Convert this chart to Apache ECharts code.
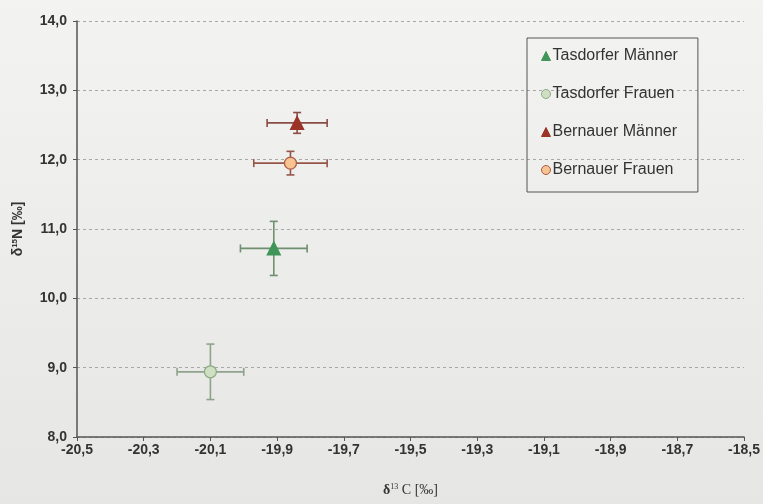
<!DOCTYPE html>
<html>
<head>
<meta charset="utf-8">
<script src="https://cdn.jsdelivr.net/npm/echarts@6/dist/echarts.min.js"></script>
<style>html,body{margin:0;padding:0;}#c{width:763px;height:504px;}</style>
</head>
<body>
<div id="c"></div>
<script>
// ---- data ----
const seriesNames = ['Tasdorfer Männer', 'Tasdorfer Frauen', 'Bernauer Männer', 'Bernauer Frauen'];
const d13C = [-19.91, -20.10, -19.84, -19.86];
const d15N = [10.72, 8.94, 12.53, 11.95];
const d13CErr = [0.10, 0.10, 0.09, 0.11];
const d15NErr = [0.39, 0.40, 0.15, 0.17];
const xTickValues = [-20.5, -20.3, -20.1, -19.9, -19.7, -19.5, -19.3, -19.1, -18.9, -18.7, -18.5];
const yTickValues = [8, 9, 10, 11, 12, 13, 14];

// ---- styles ----
const symbols = ['triangle', 'circle', 'triangle', 'circle'];
const fills = ['#3f9658', '#cfe0c2', '#9a3428', '#f6c391'];
const borders = ['#3f9658', '#8cab86', '#9a3428', '#ad5c48'];
const barColors = ['#6e8f70', '#8fa38c', '#8a4c44', '#955649'];
const sizes = [13, 12, 13, 12];

const fmt = v => (Math.round(v * 10) / 10).toFixed(1).replace('.', ',');

const series = [];
seriesNames.forEach((n, i) => {
  series.push({
    type: 'custom',
    name: n + ' err',
    z: 2,
    silent: true,
    data: [[d13C[i], d15N[i], d13CErr[i], d15NErr[i]]],
    encode: { x: 0, y: 1 },
    renderItem: function (params, api) {
      const x = api.value(0), y = api.value(1), ex = api.value(2), ey = api.value(3);
      const l = api.coord([x - ex, y]);
      const r = api.coord([x + ex, y]);
      const t = api.coord([x, y + ey]);
      const b = api.coord([x, y - ey]);
      const cap = 4;
      const st = { stroke: barColors[i], lineWidth: 1.6 };
      return {
        type: 'group',
        children: [
          { type: 'line', shape: { x1: l[0], y1: l[1], x2: r[0], y2: r[1] }, style: st },
          { type: 'line', shape: { x1: t[0], y1: t[1], x2: b[0], y2: b[1] }, style: st },
          { type: 'line', shape: { x1: l[0], y1: l[1] - cap, x2: l[0], y2: l[1] + cap }, style: st },
          { type: 'line', shape: { x1: r[0], y1: r[1] - cap, x2: r[0], y2: r[1] + cap }, style: st },
          { type: 'line', shape: { x1: t[0] - cap, y1: t[1], x2: t[0] + cap, y2: t[1] }, style: st },
          { type: 'line', shape: { x1: b[0] - cap, y1: b[1], x2: b[0] + cap, y2: b[1] }, style: st }
        ]
      };
    }
  });
});
seriesNames.forEach((n, i) => {
  series.push({
    type: 'scatter',
    name: n,
    z: 5,
    symbol: symbols[i],
    symbolSize: sizes[i],
    itemStyle: { color: fills[i], borderColor: borders[i], borderWidth: 1.3, opacity: 1 },
    data: [[d13C[i], d15N[i]]]
  });
});

const chart = echarts.init(document.getElementById('c'));
chart.setOption({
  animation: false,
  backgroundColor: {
    type: 'linear', x: 0, y: 0, x2: 0, y2: 1,
    colorStops: [{ offset: 0, color: '#f3f3f1' }, { offset: 1, color: '#e6e6e4' }]
  },
  grid: { left: 77, right: 18, top: 21, bottom: 67, containLabel: false },
  legend: {
    data: seriesNames.map((n, i) => ({ name: n, icon: symbols[i], itemStyle: { color: fills[i], borderColor: borders[i], borderWidth: 1 } })),
    orient: 'vertical',
    left: 527, top: 38,
    itemWidth: 9, itemHeight: 9, itemGap: 22,
    padding: [10, 20, 14, 14],
    borderColor: '#555', borderWidth: 1,
    backgroundColor: 'transparent',
    selectedMode: false,
    textStyle: { fontFamily: 'Liberation Sans, Arial, sans-serif', fontSize: 16, color: '#333', padding: [0, 0, 0, -3] }
  },
  xAxis: {
    type: 'value', min: -20.5, max: -18.5,
    name: '{d|δ}{s|13}{c| C [‰]}',
    nameLocation: 'middle', nameGap: 46,
    nameTextStyle: {
      rich: {
        d: { fontFamily: 'Liberation Serif, serif', fontSize: 14, color: '#333', fontWeight: 'bold' },
        s: { fontFamily: 'Liberation Serif, serif', fontSize: 8, color: '#333', verticalAlign: 'top', padding: [0, 0, 6, 0] },
        c: { fontFamily: 'Liberation Serif, serif', fontSize: 14, color: '#333' }
      }
    },
    axisLine: { lineStyle: { color: '#555', width: 1.5 } },
    axisTick: { show: true, length: 4, customValues: xTickValues, lineStyle: { color: '#555' } },
    axisLabel: { customValues: xTickValues, formatter: fmt, margin: 6, fontFamily: 'Liberation Sans, Arial, sans-serif', fontWeight: 'bold', fontSize: 14, color: '#333' },
    splitLine: { show: false }
  },
  yAxis: {
    type: 'value', min: 8, max: 14, interval: 1,
    name: '{d|δ}{s|15}{c|N [‰]}',
    nameLocation: 'middle', nameGap: 52, nameRotate: 90,
    nameTextStyle: {
      rich: {
        d: { fontFamily: 'Liberation Sans, Arial, sans-serif', fontSize: 14, fontWeight: 'bold', color: '#333' },
        s: { fontFamily: 'Liberation Sans, Arial, sans-serif', fontSize: 8, fontWeight: 'bold', color: '#333', verticalAlign: 'top', padding: [0, 0, 6, 0] },
        c: { fontFamily: 'Liberation Sans, Arial, sans-serif', fontSize: 14, fontWeight: 'bold', color: '#333' }
      }
    },
    axisLine: { show: true, lineStyle: { color: '#555', width: 1.5 } },
    axisTick: { show: true, length: 4, lineStyle: { color: '#555' } },
    axisLabel: { formatter: fmt, margin: 10, fontFamily: 'Liberation Sans, Arial, sans-serif', fontWeight: 'bold', fontSize: 14, color: '#333' },
    splitLine: { show: true, lineStyle: { color: '#a8a8a8', type: [3, 3], width: 1 } }
  },
  series: series
});
</script>
</body>
</html>
